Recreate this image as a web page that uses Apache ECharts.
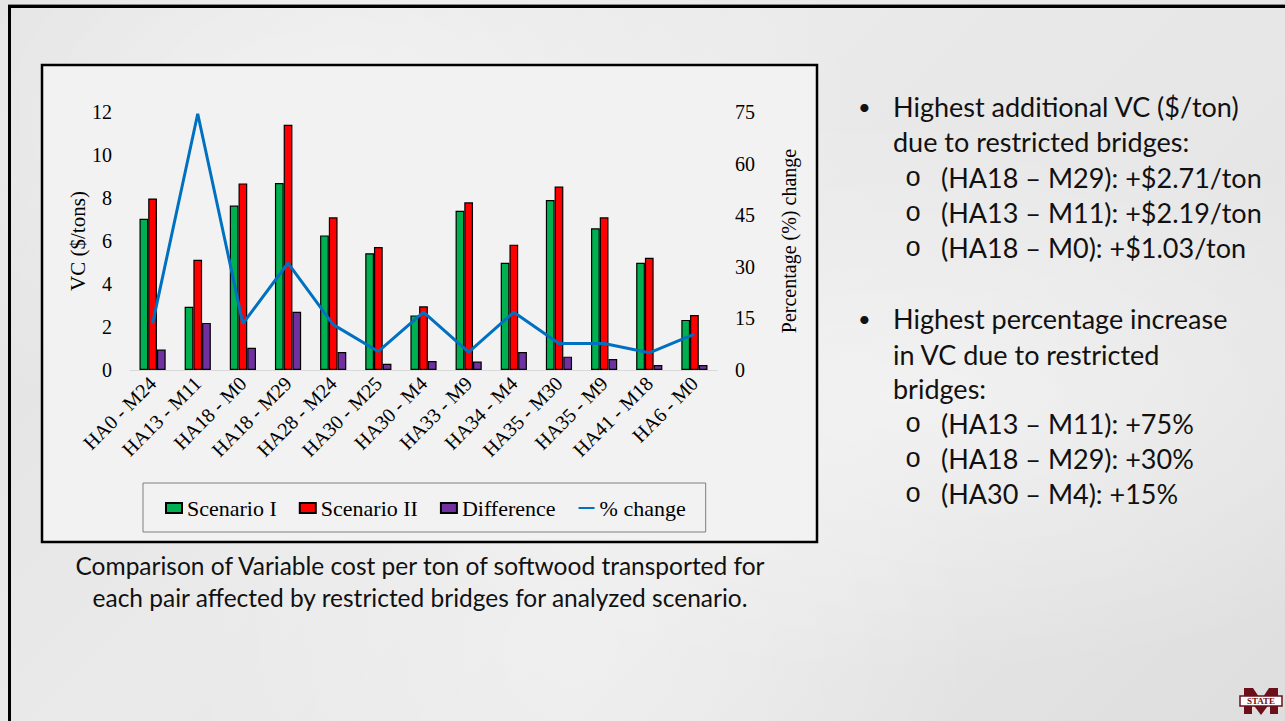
<!DOCTYPE html>
<html>
<head>
<meta charset="utf-8">
<script src="https://cdn.jsdelivr.net/npm/echarts@6/dist/echarts.min.js"></script>
<style>
  html, body { margin: 0; padding: 0; }
  body {
    width: 1285px; height: 721px; overflow: hidden;
    background:
      radial-gradient(ellipse at 25% 15%, rgba(255,255,255,0.5), rgba(255,255,255,0) 40%),
      radial-gradient(ellipse at 70% 55%, rgba(255,255,255,0.45), rgba(255,255,255,0) 50%),
      radial-gradient(ellipse at 45% 90%, rgba(255,255,255,0.35), rgba(255,255,255,0) 40%),
      linear-gradient(135deg, #e0e0e0 0%, #eaeaea 40%, #e6e6e6 70%, #dedede 100%);
  }
  #main { width: 1285px; height: 721px; }
</style>
</head>
<body>
<div id="main"></div>
<script>
// categories (origin - destination pairs)
const pairs = ['HA0 - M24', 'HA13 - M11', 'HA18 - M0', 'HA18 - M29', 'HA28 - M24', 'HA30 - M25',
  'HA30 - M4', 'HA33 - M9', 'HA34 - M4', 'HA35 - M30', 'HA35 - M9', 'HA41 - M18', 'HA6 - M0'];
// VC ($/tons)
const scenario1 = [7.03, 2.94, 7.65, 8.70, 6.26, 5.43, 2.54, 7.41, 4.99, 7.91, 6.59, 4.99, 2.33];
const scenario2 = [7.98, 5.13, 8.68, 11.41, 7.10, 5.72, 2.96, 7.80, 5.83, 8.53, 7.10, 5.22, 2.56];
const difference = [0.95, 2.19, 1.03, 2.71, 0.84, 0.29, 0.42, 0.39, 0.84, 0.62, 0.51, 0.23, 0.23];
// percentage change
const pctChange = [13.5, 74.5, 13.5, 31.1, 13.2, 5.4, 16.8, 5.2, 16.8, 7.7, 7.7, 5.0, 10.4];

const leftTicks = [0, 12, 2];   // min, max, step
const rightTicks = [0, 75, 15];

const serif = '"Liberation Serif", "Times New Roman", serif';
const sans = 'Lato, "Open Sans", sans-serif';

const bulletLines = [
  {kind: 'b', y: 106, text: 'Highest additional VC ($/ton)'},
  {kind: 't', y: 141, text: 'due to restricted bridges:'},
  {kind: 's', y: 177, text: '(HA18 \u2013 M29): +$2.71/ton'},
  {kind: 's', y: 212, text: '(HA13 \u2013 M11): +$2.19/ton'},
  {kind: 's', y: 247, text: '(HA18 \u2013 M0): +$1.03/ton'},
  {kind: 'b', y: 318, text: 'Highest percentage increase'},
  {kind: 't', y: 354, text: 'in VC due to restricted'},
  {kind: 't', y: 388, text: 'bridges:'},
  {kind: 's', y: 423, text: '(HA13 \u2013 M11): +75%'},
  {kind: 's', y: 458, text: '(HA18 \u2013 M29): +30%'},
  {kind: 's', y: 493, text: '(HA30 \u2013 M4): +15%'}
];

const chart = echarts.init(document.getElementById('main'), null, {renderer: 'svg'});

const textGraphics = [];
bulletLines.forEach(l => {
  if (l.kind === 'b') {
    textGraphics.push({type: 'text', x: 858, y: l.y, z: 10,
      style: {text: '\u2022', font: '22px ' + sans, fill: '#111', verticalAlign: 'middle'}});
  }
  if (l.kind === 's') {
    textGraphics.push({type: 'text', x: 905, y: l.y + 2, z: 10,
      style: {text: 'o', font: '27px "Liberation Mono", monospace', fill: '#111', verticalAlign: 'middle'}});
  }
  textGraphics.push({type: 'text', x: l.kind === 's' ? 941 : 893, y: l.y, z: 10,
    style: {text: l.text, font: '27px ' + sans, fill: '#111', verticalAlign: 'middle'}});
});

chart.setOption({
  animation: false,
  graphic: [
    // slide frame
    {type: 'rect', shape: {x: 8, y: 4, width: 1277, height: 1}, style: {fill: '#8c8c8c'}},
    {type: 'rect', shape: {x: 8, y: 5, width: 1277, height: 3}, style: {fill: '#000'}},
    {type: 'rect', shape: {x: 8, y: 5, width: 3, height: 716}, style: {fill: '#000'}},
    // chart box
    {type: 'rect', z: -1, shape: {x: 42, y: 65, width: 775, height: 477},
      style: {fill: '#f2f2f2', stroke: '#000', lineWidth: 2.5}},
    // caption
    {type: 'text', x: 420, y: 565, style: {text: 'Comparison of Variable cost per ton of softwood transported for',
      font: '24.5px ' + sans, fill: '#111', align: 'center', verticalAlign: 'middle'}},
    {type: 'text', x: 420, y: 597, style: {text: 'each pair affected by restricted bridges for analyzed scenario.',
      font: '24.5px ' + sans, fill: '#111', align: 'center', verticalAlign: 'middle'}},
    // logo
    {type: 'polygon', shape: {points: [[1244, 688], [1253, 688], [1261, 700], [1269, 688], [1278, 688],
      [1278, 714], [1270, 714], [1270, 703], [1261, 715], [1252, 703], [1252, 714], [1244, 714]]},
      style: {fill: '#6b0f1a'}},
    {type: 'rect', shape: {x: 1240, y: 696, width: 42, height: 10}, style: {fill: '#fff', stroke: '#6b0f1a', lineWidth: 1.5}},
    {type: 'text', x: 1261, y: 701, style: {text: 'STATE', font: 'bold 9px ' + serif, fill: '#6b0f1a',
      align: 'center', verticalAlign: 'middle'}}
  ].concat(textGraphics),
  legend: {
    left: 143, top: 483,
    padding: [14, 20, 13, 22],
    borderColor: '#7f7f7f', borderWidth: 1,
    itemWidth: 16, itemHeight: 10, itemGap: 22,
    textStyle: {fontFamily: serif, fontSize: 22, color: '#000'},
    data: [
      {name: 'Scenario I', icon: 'rect'},
      {name: 'Scenario II', icon: 'rect'},
      {name: 'Difference', icon: 'rect'},
      {name: '% change', itemStyle: {color: 'transparent', borderWidth: 0, opacity: 0}}
    ]
  },
  grid: {left: 130, right: 568, top: 112, bottom: 351},
  xAxis: {
    type: 'category',
    data: pairs,
    axisLine: {lineStyle: {color: '#d9d9d9', width: 1}},
    axisTick: {show: false},
    axisLabel: {rotate: 45, interval: 0, margin: 10, fontFamily: serif, fontSize: 20, color: '#000'}
  },
  yAxis: [
    {
      type: 'value', min: leftTicks[0], max: leftTicks[1], interval: leftTicks[2],
      name: 'VC ($/tons)', nameLocation: 'middle', nameGap: 40, nameRotate: 90,
      nameTextStyle: {fontFamily: serif, fontSize: 21, color: '#000'},
      axisLine: {show: false}, axisTick: {show: false}, splitLine: {show: false},
      axisLabel: {fontFamily: serif, fontSize: 20, color: '#000', margin: 18}
    },
    {
      type: 'value', min: rightTicks[0], max: rightTicks[1], interval: rightTicks[2],
      name: 'Percentage (%) change', nameLocation: 'middle', nameGap: 62, nameRotate: 90,
      nameTextStyle: {fontFamily: serif, fontSize: 20, color: '#000'},
      axisLine: {show: false}, axisTick: {show: false}, splitLine: {show: false},
      axisLabel: {fontFamily: serif, fontSize: 20, color: '#000', margin: 18}
    }
  ],
  series: [
    {name: 'Scenario I', type: 'bar', data: scenario1, barGap: '0%', barCategoryGap: '42%',
      itemStyle: {color: '#00b050', borderColor: '#000', borderWidth: 1.2}},
    {name: 'Scenario II', type: 'bar', data: scenario2,
      itemStyle: {color: '#ff0000', borderColor: '#000', borderWidth: 1.2}},
    {name: 'Difference', type: 'bar', data: difference,
      itemStyle: {color: '#7030a0', borderColor: '#000', borderWidth: 1.2}},
    {name: '% change', type: 'line', yAxisIndex: 1, data: pctChange, symbol: 'none',
      lineStyle: {color: '#0070c0', width: 3}, itemStyle: {color: '#0070c0'}}
  ]
});
</script>
</body>
</html>
